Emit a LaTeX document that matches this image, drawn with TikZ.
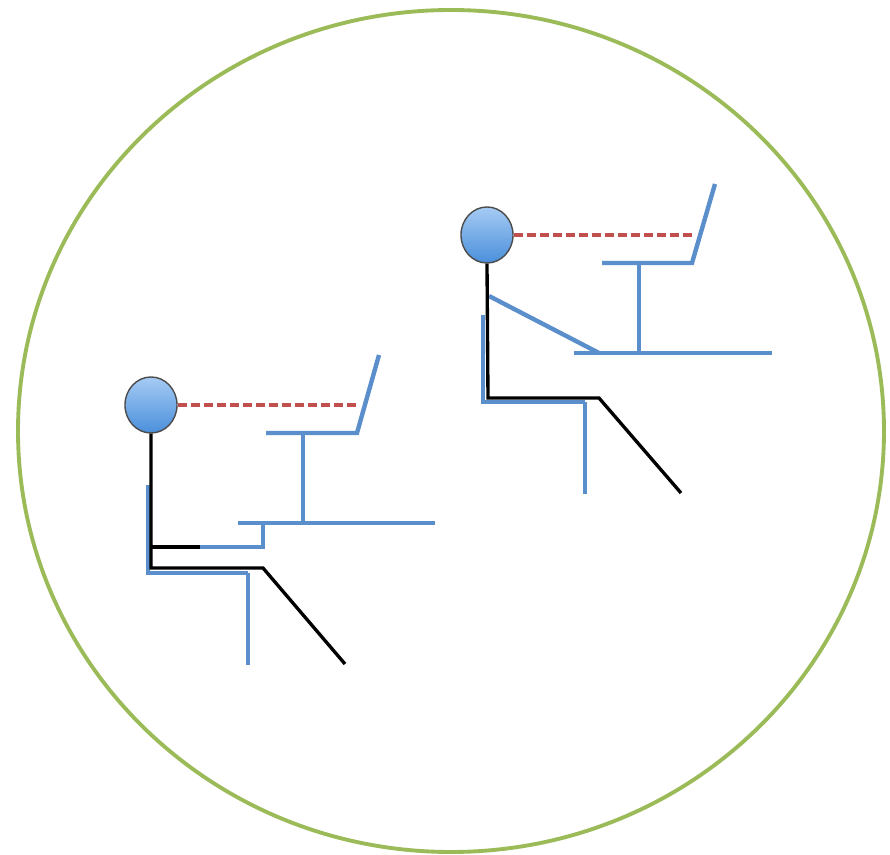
\documentclass[tikz,border=0pt]{standalone}
\usepackage{tikz}
\usetikzlibrary{shapes.geometric,positioning}
\definecolor{ringgreen}{HTML}{9BBB59}
\definecolor{furnblue}{HTML}{5A8FCB}
\definecolor{sightred}{HTML}{C0504D}
\definecolor{headtop}{HTML}{A6CBF4}
\definecolor{headbot}{HTML}{4A8FDB}

\begin{document}
\begin{tikzpicture}[x=0.01cm, y=-0.01cm,
  head/.style={ellipse, draw=black!70, line width=0.4pt, minimum width=0.52cm, minimum height=0.56cm, inner sep=0pt, top color=headtop, bottom color=headbot},
  furniture/.style={draw=furnblue, line width=1.25pt},
  body/.style={draw=black, line width=0.95pt},
  sight/.style={draw=sightred, line width=0.9pt, dash pattern=on 2.6pt off 1.1pt}
]
\useasboundingbox (0,0) rectangle (890,855);
\draw[ringgreen, line width=1.1pt] (451,431) ellipse [x radius=433, y radius=421];

% left worker, keyboard tray below the desk
\draw[furniture] (148,485) -- (148,573) -- (248,573);
\draw[furniture] (248,573) -- (248,665);
\draw[furniture] (238,523) -- (435,523);
\draw[furniture] (303,523) -- (303,433);
\draw[furniture] (266,433) -- (357,433) -- (379,355);
\draw[furniture] (200,547) -- (263,547) -- (263,523);
\node[head] (head1) at (151,405) {};
\coordinate (screen1) at (357,405);
\draw[sight] (head1.east) -- (screen1);
\draw[body] (head1.south) -- (151,568) -- (263,568) -- (345,664);
\draw[body] (151,547) -- (200,547);

% right worker, hands on the desk
\draw[furniture] (483,315) -- (483,402) -- (585,402);
\draw[furniture] (585,402) -- (585,494);
\draw[furniture] (574,353) -- (772,353);
\draw[furniture] (639,353) -- (639,263);
\draw[furniture] (602,263) -- (692,263) -- (715,184);
\draw[furniture] (489,296) -- (599,353);
\node[head] (head2) at (487,235) {};
\coordinate (screen2) at (692,235);
\draw[sight] (head2.east) -- (screen2);
\draw[body] (head2.south) -- (488,398) -- (599,398) -- (681,493);
\end{tikzpicture}
\end{document}
